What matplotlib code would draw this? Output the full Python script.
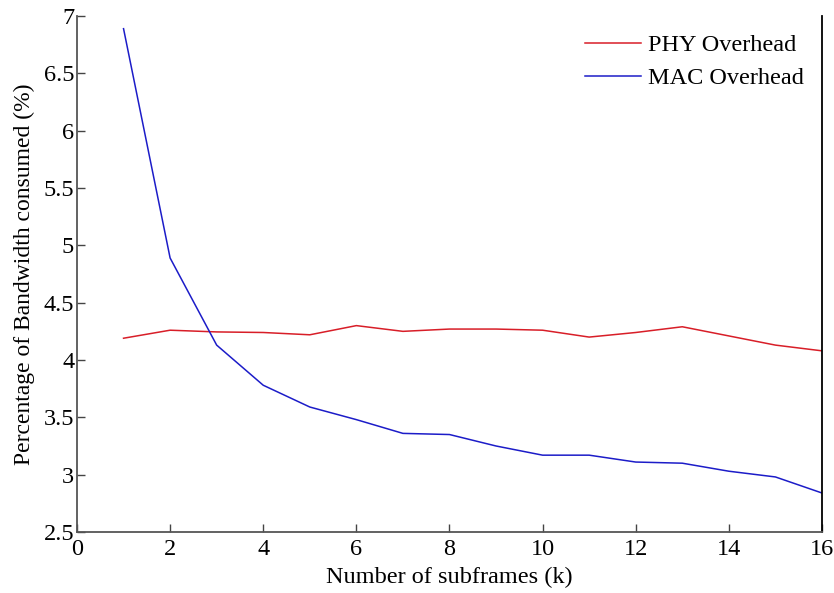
import matplotlib
matplotlib.use("Agg")
import matplotlib.pyplot as plt

# subframe count k and overhead (% of bandwidth)
k = list(range(1, 17))
phy = [4.19, 4.26, 4.245, 4.24, 4.22, 4.30, 4.25, 4.27, 4.27, 4.26,
       4.20, 4.24, 4.29, 4.21, 4.13, 4.08]
mac = [6.89, 4.89, 4.13, 3.78, 3.59, 3.48, 3.36, 3.35, 3.25, 3.17,
       3.17, 3.11, 3.10, 3.03, 2.98, 2.84]

xticks = [0, 2, 4, 6, 8, 10, 12, 14, 16]
yticks = [2.5, 3, 3.5, 4, 4.5, 5, 5.5, 6, 6.5, 7]

plt.rcParams["font.family"] = ["Liberation Serif", "DejaVu Serif"]
FS = 17.5

fig = plt.figure(figsize=(8.34, 5.93), dpi=100)
ax = fig.add_axes([0.0923, 0.1029, 0.8933, 0.870])

ax.plot(k, phy, color="#d81e28", linewidth=1.1, label="PHY Overhead")
ax.plot(k, mac, color="#1c1cc8", linewidth=1.1, label="MAC Overhead")

ax.set_xlim(0, 16)
ax.set_ylim(2.5, 7)
ax.set_xticks(xticks)
ax.set_xticklabels([str(t) for t in xticks])
ax.set_yticks(yticks)
ax.set_yticklabels([f"{t:g}" for t in yticks])
ax.tick_params(direction="in", length=6, width=1, colors="#444444",
               labelcolor="black", labelsize=FS)
ax.tick_params(axis="x", pad=5)
ax.tick_params(axis="y", pad=2)

ax.spines["top"].set_visible(False)
ax.spines["left"].set_color("#555555")
ax.spines["bottom"].set_color("#555555")
ax.spines["right"].set_color("black")
for s in ("left", "bottom", "right"):
    ax.spines[s].set_linewidth(1.3)

ax.set_xlabel("Number of subframes (k)", fontsize=FS, labelpad=5)
ax.set_ylabel("Percentage of Bandwidth consumed (%)", fontsize=17, labelpad=6)

ax.legend(loc="upper right", frameon=False, fontsize=FS, handlelength=2.3,
          handletextpad=0.3, borderaxespad=0.35, labelspacing=0.45)

fig.savefig("out.png", dpi=100, facecolor="white")
